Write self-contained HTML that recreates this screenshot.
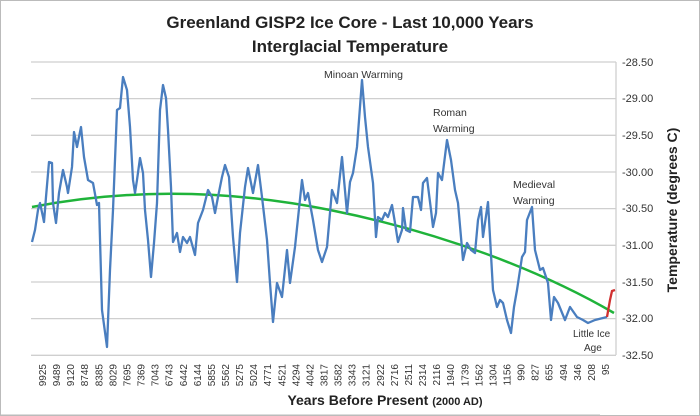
<!DOCTYPE html>
<html><head><meta charset="utf-8"><style>
body{margin:0;background:#fff}
svg{display:block;font-family:"Liberation Sans",sans-serif}
</style></head><body>
<svg width="700" height="416" viewBox="0 0 700 416" xmlns="http://www.w3.org/2000/svg">
<rect x="0.5" y="0.5" width="699" height="415" fill="#fff" stroke="#bbb"/>
<text x="350" y="28" text-anchor="middle" font-size="17" font-weight="bold" fill="#222">Greenland GISP2 Ice Core - Last 10,000 Years</text>
<text x="350" y="52" text-anchor="middle" font-size="17" font-weight="bold" fill="#222">Interglacial Temperature</text>
<g stroke="#cfcfcf" stroke-width="1.3">
<line x1="31" y1="62" x2="616" y2="62"/><line x1="31" y1="98.6" x2="616" y2="98.6"/>
<line x1="31" y1="135.3" x2="616" y2="135.3"/><line x1="31" y1="172" x2="616" y2="172"/>
<line x1="31" y1="208.6" x2="616" y2="208.6"/><line x1="31" y1="245.3" x2="616" y2="245.3"/>
<line x1="31" y1="282" x2="616" y2="282"/><line x1="31" y1="318.6" x2="616" y2="318.6"/>
<line x1="31" y1="355.3" x2="616" y2="355.3"/>
<line x1="616" y1="62" x2="616" y2="355"/>
</g>
<g font-size="11" fill="#333">
<text x="622" y="66">-28.50</text><text x="622" y="102">-29.00</text><text x="622" y="139">-29.50</text>
<text x="622" y="176">-30.00</text><text x="622" y="212">-30.50</text><text x="622" y="249">-31.00</text>
<text x="622" y="286">-31.50</text><text x="622" y="322">-32.00</text><text x="622" y="359">-32.50</text>
</g>
<text transform="translate(677,210) rotate(-90)" text-anchor="middle" font-size="14" font-weight="bold" fill="#222">Temperature (degrees C)</text>
<path d="M32,207 C120,190 220,188 330,210 S540,270 614,313" fill="none" stroke="#1fb33a" stroke-width="2.5"/>
<polyline fill="none" stroke="#4a7ebf" stroke-width="2.3" stroke-linejoin="round" points="32,242 35,230 38,210 40,203 43,217 44,222 46,197 49,162 52,163 53,203 56,223 59,193 63,170 67,187 68,193 72,167 74,132 77,147 81,127 84,157 88,180 93,183 97,205 99,203 102,310 107,347 110,270 113,210 117,110 120,108 123,77 127,90 130,127 133,180 135,193 137,180 140,158 143,173 145,210 148,240 151,277 154,243 157,203 160,110 163,85 166,98 168,130 171,187 173,242 177,233 180,252 183,237 187,243 190,237 195,255 198,223 203,210 208,190 212,197 215,213 218,197 222,177 225,165 229,177 233,237 237,282 240,233 245,187 248,168 253,193 258,165 262,197 267,240 270,283 273,322 277,283 282,297 287,250 290,283 295,247 302,180 305,200 308,193 313,220 318,250 322,262 327,247 332,190 337,203 342,157 347,213 350,182 353,173 357,147 362,80 365,117 368,147 373,183 376,237 378,217 382,220 385,213 388,217 392,205 395,223 398,242 402,230 403,208 406,230 410,232 413,197 418,197 421,210 423,183 427,178 431,210 433,227 436,213 438,173 442,180 447,140 451,160 455,190 458,203 463,260 467,243 471,250 475,253 478,220 481,207 483,237 488,202 493,290 497,307 500,300 503,303 507,320 511,333 514,307 517,290 522,257 525,252 527,220 532,207 535,250 540,270 543,268 548,283 551,320 554,297 558,303 565,320 570,307 577,317 583,320 588,323 595,320 603,318 607,317"/>
<polyline fill="none" stroke="#d03030" stroke-width="2.3" points="607,317 610,300 612,291 615,290"/>
<g font-size="10.5" fill="#333">
<text x="324" y="78">Minoan Warming</text>
<text x="433" y="116">Roman</text><text x="433" y="132">Warming</text>
<text x="513" y="188">Medieval</text><text x="513" y="204">Warming</text>
<text x="573" y="337" font-size="10">Little Ice</text><text x="584" y="351" font-size="10">Age</text>
</g>
<g font-size="10" fill="#333" text-anchor="end" id="xl"></g>
<text x="385" y="405" text-anchor="middle" font-size="14" font-weight="bold" fill="#222">Years Before Present <tspan font-size="11">(2000 AD)</tspan></text>
<line x1="0" y1="415" x2="600" y2="415" stroke="#bbb"/>
</svg>
<script>
var L="9925 9489 9120 8748 8385 8029 7695 7369 7043 6743 6442 6144 5855 5562 5275 5024 4771 4521 4294 4042 3817 3582 3343 3121 2922 2716 2511 2314 2116 1940 1739 1562 1304 1156 990 827 655 494 346 208 95".split(" ");
var g=document.getElementById("xl"),ns="http://www.w3.org/2000/svg";
for(var i=0;i<L.length;i++){var x=42+i*(605-42)/(L.length-1);var t=document.createElementNS(ns,"text");
t.setAttribute("transform","translate("+(x+4)+",364) rotate(-90)");t.textContent=L[i];g.appendChild(t);}
</script>
</body></html>
